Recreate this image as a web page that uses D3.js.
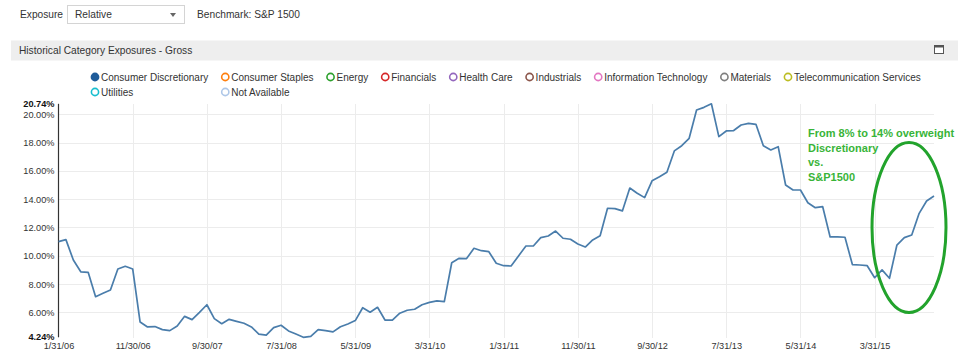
<!DOCTYPE html>
<html>
<head>
<meta charset="utf-8">
<script src="https://cdn.jsdelivr.net/npm/d3@7"></script>
<style>
  html, body { margin: 0; padding: 0; background: #ffffff; }
  svg { display: block; font-family: "Liberation Sans", Arial, sans-serif; }
</style>
</head>
<body>
<svg id="chart" width="968" height="357"></svg>
<script>
// ---------------- data ----------------
const startMonth = [2006, 0];           // January 2006 (month-end observations)
const values = [
  11.00, 11.14, 9.70, 8.87, 8.83, 7.11, 7.35, 7.58, 9.07, 9.26,
  9.07, 5.32, 4.97, 5.00, 4.78, 4.71, 5.04, 5.72, 5.49, 6.00,
  6.54, 5.56, 5.20, 5.51, 5.37, 5.23, 4.97, 4.47, 4.40, 4.92,
  5.09, 4.69, 4.47, 4.24, 4.31, 4.78, 4.71, 4.62, 4.99, 5.18,
  5.42, 6.33, 6.01, 6.36, 5.46, 5.46, 5.94, 6.15, 6.22, 6.54,
  6.71, 6.81, 6.76, 9.51, 9.82, 9.80, 10.53, 10.36, 10.29, 9.47,
  9.30, 9.28, 9.99, 10.69, 10.69, 11.28, 11.40, 11.75, 11.24, 11.17,
  10.83, 10.62, 11.12, 11.42, 13.36, 13.33, 13.17, 14.79, 14.42, 14.11,
  15.30, 15.59, 15.90, 17.41, 17.78, 18.30, 20.30, 20.49, 20.74, 18.42,
  18.82, 18.85, 19.24, 19.36, 19.29, 17.78, 17.48, 17.71, 15.00, 14.65,
  14.65, 13.75, 13.40, 13.47, 11.33, 11.33, 11.31, 9.38, 9.35, 9.30,
  8.45, 9.00, 8.41, 10.76, 11.28, 11.47, 13.00, 13.87, 14.22
];
const xTickLabels = ["1/31/06","11/30/06","9/30/07","7/31/08","5/31/09","3/31/10",
                     "1/31/11","11/30/11","9/30/12","7/31/13","5/31/14","3/31/15"];
const yTicks = [6, 8, 10, 12, 14, 16, 18, 20];
const yMin = 4.24, yMax = 20.74;
const legendNames = ["Consumer Discretionary","Consumer Staples","Energy","Financials",
  "Health Care","Industrials","Information Technology","Materials",
  "Telecommunication Services","Utilities","Not Available"];
const legendColors = ["#1f5c9a","#ff7f0e","#2ca02c","#d62728","#9467bd","#8c564b",
  "#e377c2","#7f7f7f","#bcbd22","#17becf","#aec7e8"];
const annotationLines = ["From 8% to 14% overweight","Discretionary","vs.","S&P1500"];

// month-end category labels
const fmt = d3.utcFormat("%-m/%-d/%y");
const categories = values.map((v, i) => fmt(new Date(Date.UTC(startMonth[0], startMonth[1] + i + 1, 0))));
const series = categories.map((c, i) => ({ c, v: values[i] }));

// ---------------- layout ----------------
const svg = d3.select("#chart");
const TXT = "#333333";

// top controls
svg.append("text").attr("x", 20).attr("y", 18).attr("font-size", 10.2).attr("fill", TXT).text("Exposure");
svg.append("rect").attr("x", 67.5).attr("y", 5.5).attr("width", 117).attr("height", 18)
  .attr("fill", "#fff").attr("stroke", "#d4d4d4");
svg.append("text").attr("x", 75).attr("y", 18).attr("font-size", 10.2).attr("fill", TXT).text("Relative");
svg.append("path").attr("d", "M170,13 L176,13 L173,17 Z").attr("fill", "#666");
svg.append("text").attr("x", 197).attr("y", 18).attr("font-size", 10.2).attr("fill", TXT).text("Benchmark: S&P 1500");

// panel header
svg.append("rect").attr("x", 11).attr("y", 40.5).attr("width", 947).attr("height", 20).attr("fill", "#eeeeee");
svg.append("text").attr("x", 19).attr("y", 54).attr("font-size", 10.2).attr("fill", TXT)
  .text("Historical Category Exposures - Gross");
svg.append("rect").attr("x", 934.5).attr("y", 45.5).attr("width", 9).attr("height", 8)
  .attr("fill", "#fff").attr("stroke", "#555");
svg.append("rect").attr("x", 934.5).attr("y", 45.5).attr("width", 9).attr("height", 2).attr("fill", "#555");

// legend (flow layout, second row aligned to columns)
const legendFont = 10, gap = 17;
const lg = svg.append("g");
let lx = 95;
const rowY = [77, 92];
const colX = [];
legendNames.forEach((name, i) => {
  let row = i < 9 ? 0 : 1;
  let x;
  if (row === 0) { x = lx; colX.push(x); }
  else { x = colX[i - 9]; }
  const g = lg.append("g").attr("transform", `translate(${x},${rowY[row]})`);
  g.append("circle").attr("r", 3.6)
    .attr("fill", i === 0 ? legendColors[i] : "#fff")
    .attr("stroke", legendColors[i]).attr("stroke-width", 1.6);
  const t = g.append("text").attr("x", 6).attr("y", 3.5).attr("font-size", legendFont).attr("fill", TXT).text(name);
  if (row === 0) lx = x + 6 + t.node().getComputedTextLength() + gap;
});

// scales
const x = d3.scalePoint().domain(categories).range([58.5, 934]);
const y = d3.scaleLinear().domain([yMin, yMax]).range([337.3, 103.8]);

// gridlines
const grid = svg.append("g");
grid.selectAll("line.h").data(yTicks).join("line")
  .attr("x1", 58.5).attr("x2", 934).attr("y1", d => Math.round(y(d)) + 0.5).attr("y2", d => Math.round(y(d)) + 0.5)
  .attr("stroke", "#ececec").attr("stroke-width", 1);
grid.selectAll("line.v").data(xTickLabels.slice(1)).join("line")
  .attr("x1", d => Math.round(x(d)) + 0.5).attr("x2", d => Math.round(x(d)) + 0.5)
  .attr("y1", 104).attr("y2", 338)
  .attr("stroke", "#ececec").attr("stroke-width", 1);

// y axis
const yAxis = d3.axisLeft(y).tickValues(yTicks).tickSize(0).tickPadding(4)
  .tickFormat(d => d.toFixed(2) + "%");
const yg = svg.append("g").attr("transform", "translate(58.5,0)").call(yAxis);
yg.select(".domain").attr("stroke", "#333").attr("stroke-width", 1.2).attr("d", `M0,${y(yMax)}V${y(yMin)}`);
yg.selectAll("text").attr("font-size", 9.2).attr("fill", TXT).attr("font-family", "Liberation Sans, Arial, sans-serif");
[yMax, yMin].forEach(v => {
  yg.append("text").attr("x", -4).attr("y", y(v)).attr("dy", "0.32em").attr("text-anchor", "end")
    .attr("font-size", 9.2).attr("font-weight", "bold").attr("fill", "#111").text(v.toFixed(2) + "%");
});

// x axis labels
const xAxis = d3.axisBottom(x).tickValues(xTickLabels).tickSize(0).tickPadding(3);
const xg = svg.append("g").attr("transform", "translate(0,339)").call(xAxis);
xg.select(".domain").remove();
xg.selectAll("text").attr("font-size", 9.2).attr("fill", TXT).attr("font-family", "Liberation Sans, Arial, sans-serif");

// line
const line = d3.line().x(d => x(d.c)).y(d => y(d.v));
svg.append("path").datum(series).attr("d", line)
  .attr("fill", "none").attr("stroke", "#4a7dab").attr("stroke-width", 1.7).attr("stroke-linejoin", "round");

// annotation
const ann = svg.append("text").attr("x", 808).attr("y", 137).attr("font-size", 11)
  .attr("font-weight", "bold").attr("fill", "#38b438");
annotationLines.forEach((s, i) => ann.append("tspan").attr("x", 808).attr("dy", i === 0 ? 0 : 14.7).text(s));
svg.append("ellipse").attr("cx", 909).attr("cy", 227.5).attr("rx", 37).attr("ry", 85)
  .attr("fill", "none").attr("stroke", "#22a32c").attr("stroke-width", 3);
</script>
</body>
</html>
